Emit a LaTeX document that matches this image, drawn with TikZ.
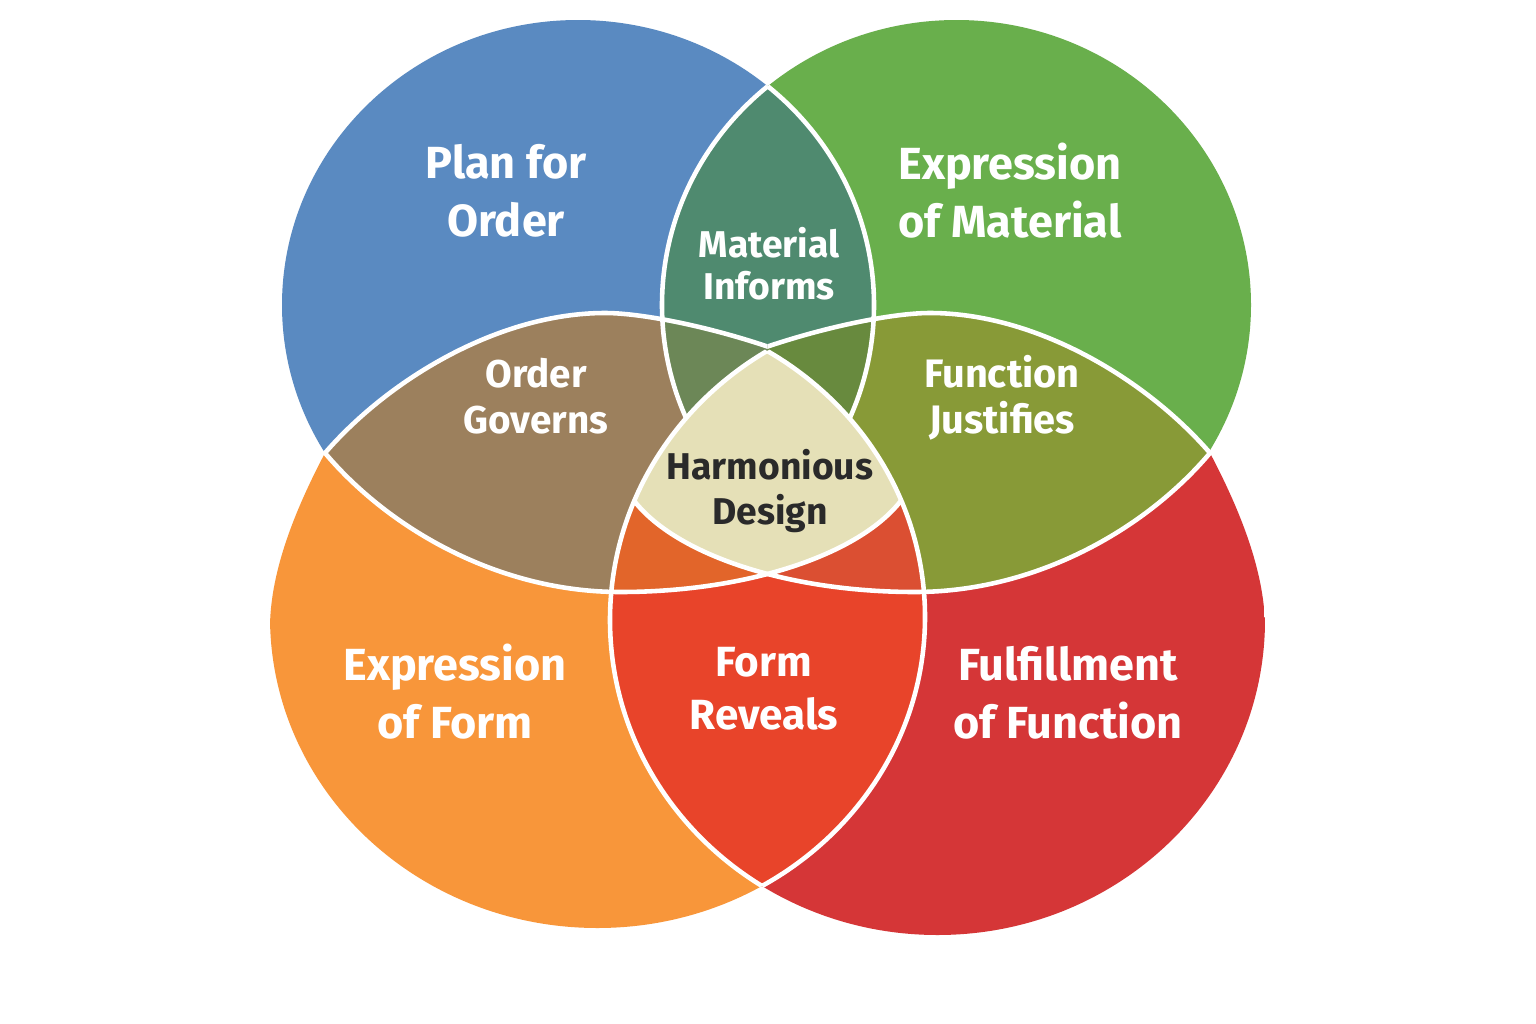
\documentclass[tikz,border=0pt]{standalone}
\usepackage{fontspec}
\setmainfont{Fira Sans}
\usepackage{tikz}

\definecolor{planC}{HTML}{5A8AC1}
\definecolor{matC}{HTML}{69AF4C}
\definecolor{formC}{HTML}{F8963A}
\definecolor{funcC}{HTML}{D53637}
\definecolor{informC}{HTML}{4F8A6F}
\definecolor{governC}{HTML}{9C805D}
\definecolor{justifyC}{HTML}{889A37}
\definecolor{governdkC}{HTML}{6C8757}
\definecolor{justifydkC}{HTML}{688A3E}
\definecolor{revealC}{HTML}{E8442A}
\definecolor{revealdkC}{HTML}{E2652A}
\definecolor{revealrdC}{HTML}{DB4F32}
\definecolor{harmonyC}{HTML}{E5E0B7}
\definecolor{inkC}{HTML}{2A2A2A}

% the six shapes, in pixel units
\newcommand{\planshape}{(578,305) ellipse [x radius=296, y radius=285]}
\newcommand{\matshape}{(956.5,305) ellipse [x radius=294.5, y radius=285]}
\newcommand{\formshape}{(597.5,617) ellipse [x radius=327.5, y radius=311]}
\newcommand{\funcshape}{(937.5,620) ellipse [x radius=327.5, y radius=315]}
\newcommand{\ordershape}{(325,453) .. controls (390,378) and (500,313) .. (605,313)
  .. controls (685,313) and (918,378) .. (918,455)
  .. controls (918,531) and (783,592) .. (620,592)
  .. controls (500,592) and (390,530) .. (325,453) -- cycle}
\newcommand{\justshape}{(1210,453) .. controls (1145,378) and (1035,313) .. (930,313)
  .. controls (850,313) and (617,378) .. (617,455)
  .. controls (617,531) and (752,592) .. (915,592)
  .. controls (1035,592) and (1145,530) .. (1210,453) -- cycle}
\newcommand{\lefthalf}{(0,0) rectangle (767.5,1024)}
\newcommand{\righthalf}{(767.5,0) rectangle (1536,1024)}
\newcommand{\tophalf}{(0,0) rectangle (1536,453)}
\newcommand{\formclip}{(325,453) .. controls (295,510) and (271,570) .. (270,625)
  -- (200,720) -- (200,1030) -- (1540,1030) -- (1540,-10) -- (325,-10) -- cycle}
\newcommand{\funcclip}{(1210,453) .. controls (1240,510) and (1264,570) .. (1265,625)
  -- (1335,720) -- (1335,1030) -- (-5,1030) -- (-5,-10) -- (1210,-10) -- cycle}

\begin{document}
\begin{tikzpicture}[
      x=0.01cm, y=-0.01cm,
      edge/.style={draw=white, line width=1.3pt},
      biglabel/.style={text=white, align=center, font=\bfseries\fontsize{12.8}{16.5}\selectfont},
      midlabel/.style={text=white, align=center, font=\bfseries\fontsize{11}{13}\selectfont},
]
\useasboundingbox (0,0) rectangle (1536,1024);
\fill[white] (0,0) rectangle (1536,1024);

% four circles
\begin{scope}
  \clip \formclip;
  \fill[formC] \formshape;
\end{scope}
\begin{scope}
  \clip \funcclip;
  \fill[funcC] \funcshape;
\end{scope}
\begin{scope}
  \clip \tophalf;
  \fill[planC] \planshape;
  \fill[matC] \matshape;
  \clip \planshape;
  \fill[informC] \matshape;
\end{scope}

% two ellipses
\fill[governC] \ordershape;
\begin{scope}
  \clip \righthalf;
  \fill[justifyC] \justshape;
\end{scope}
\begin{scope}
  \clip \planshape;
  \clip \matshape;
  \fill[governdkC] \ordershape;
  \clip \righthalf;
  \fill[justifydkC] \justshape;
\end{scope}

\begin{scope}
  \clip \matshape;
  \draw[edge] \planshape;
\end{scope}
\begin{scope}
  \clip \planshape;
  \draw[edge] \matshape;
\end{scope}
\begin{scope}
  \clip \lefthalf;
  \draw[edge] \ordershape;
\end{scope}
\begin{scope}
  \clip \righthalf;
  \draw[edge] \justshape;
\end{scope}

% centre
\begin{scope}
  \clip \formshape;
  \clip \funcshape;
  \fill[revealC] \funcshape;
  \begin{scope}
    \clip \lefthalf;
    \fill[revealdkC] \ordershape;
  \end{scope}
  \begin{scope}
    \clip \righthalf;
    \fill[revealrdC] \justshape;
  \end{scope}
  \begin{scope}
    \clip \ordershape;
    \fill[harmonyC] \justshape;
  \end{scope}
  \draw[edge] \ordershape;
  \draw[edge] \justshape;
\end{scope}
\begin{scope}
  \clip \funcshape;
  \draw[edge] \formshape;
\end{scope}
\begin{scope}
  \clip \formshape;
  \draw[edge] \funcshape;
\end{scope}

% labels
\node[biglabel] (plan) at (506,191) {Plan for\\Order};
\node[biglabel] (material) at (1010,191) {Expression\\of Material};
\node[biglabel] (form) at (455,692) {Expression\\of Form};
\node[biglabel] (function) at (1068,693) {Fulfillment\\of Function};
\node[midlabel, font=\bfseries\fontsize{10.6}{11.9}\selectfont] (informs) at (769,264) {Material\\Informs};
\node[midlabel] (governs) at (536,396) {Order\\Governs};
\node[midlabel, font=\bfseries\fontsize{11.3}{13.2}\selectfont] (justifies) at (1002,398) {Function\\Justifies};
\node[midlabel, text=inkC, font=\bfseries\fontsize{10.6}{12.8}\selectfont] (harmony) at (770,491) {Harmonious\\Design};
\node[midlabel, font=\bfseries\fontsize{12}{15}\selectfont] (reveals) at (764,689) {Form\\Reveals};

\end{tikzpicture}
\end{document}
